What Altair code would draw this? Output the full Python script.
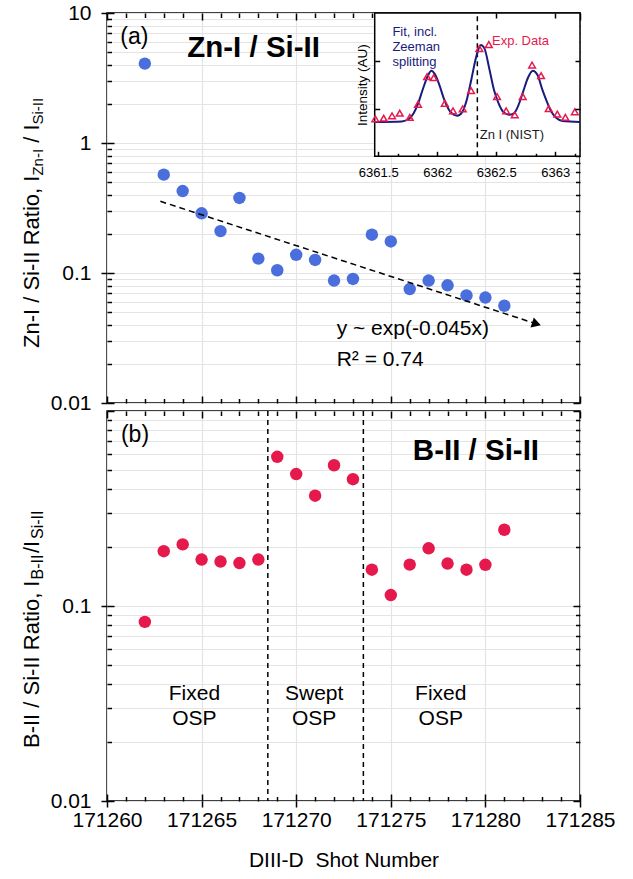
import altair as alt
import pandas as pd

FONT = "Liberation Sans"
BLUE = "#4a6fdc"
RED = "#e5194b"
NAVY = "#1b1b7d"
PINK = "#e8184e"
GRID = "#e4e4e4"

W = 473
H = 390

# ---------------- main data ----------------
shots = [171262, 171263, 171264, 171265, 171266, 171267, 171268, 171269, 171270, 171271,
         171272, 171273, 171274, 171275, 171276, 171277, 171278, 171279, 171280, 171281]
zn_si_ratio = [4.08, 0.571, 0.427, 0.288, 0.210, 0.378, 0.129, 0.105, 0.138, 0.126,
               0.0875, 0.090, 0.197, 0.175, 0.0752, 0.0875, 0.0804, 0.0672, 0.0647, 0.056]
b_si_ratio = [0.0829, 0.191, 0.207, 0.173, 0.169, 0.166, 0.173, 0.582, 0.475, 0.368,
              0.527, 0.447, 0.1536, 0.1138, 0.163, 0.1977, 0.165, 0.1536, 0.1626, 0.246]

trend_shot = [171262.82, 171282.70]
trend_ratio = [0.356, 0.0406]
arrow_angle = 18

osp_bounds = [171268.5, 171273.55]

SHOT_RANGE = [171260, 171285]
TOP_RANGE = [0.01, 10]
BOT_RANGE = [0.01, 1]
shot_major = [171260, 171265, 171270, 171275, 171280, 171285]
shot_minor = [s for s in range(171260, 171286) if s % 5 != 0]

# panel annotations
a_panel_txt = ["(a)"]; a_panel_x = [171261.45]; a_panel_y = [6.5]
a_title_txt = ["Zn-I / Si-II"]; a_title_x = [171267.75]; a_title_y = [5.39]
fit_txt = ["y ~ exp(-0.045x)", "R\u00b2 = 0.74"]; fit_x = [171272.14, 171272.14]; fit_y = [0.0372, 0.0216]

b_panel_txt = ["(b)"]; b_panel_x = [171261.48]; b_panel_y = [0.7556]
b_title_txt = ["B-II / Si-II"]; b_title_x = [171279.5]; b_title_y = [0.624]
region_txt = ["Fixed", "OSP", "Swept", "OSP", "Fixed", "OSP"]
region_x = [171264.62, 171264.62, 171270.95, 171270.95, 171277.64, 171277.64]
region_y = [0.0354, 0.0262, 0.0354, 0.0262, 0.0354, 0.0262]

x_title = "DIII-D\u00a0 Shot Number"

# ---------------- inset data ----------------
wl_range = [6361.47, 6363.21]
int_range = [0, 3]
inset_px_x = [267.7, 473]
inset_px_y = [143.3, 0]

exp_wl = [6361.475, 6361.546, 6361.617, 6361.682, 6361.767, 6361.837, 6361.914, 6361.970,
          6362.064, 6362.134, 6362.216, 6362.287, 6362.357, 6362.437, 6362.507, 6362.584,
          6362.657, 6362.725, 6362.804, 6362.880, 6362.945, 6363.018, 6363.086, 6363.166]
exp_int = [0.785, 0.798, 0.848, 0.902, 0.813, 1.090, 1.667, 1.646,
           1.110, 0.952, 0.994, 1.375, 2.256, 2.340, 1.250, 0.952,
           0.869, 1.250, 1.910, 1.688, 1.000, 0.883, 0.815, 0.933]

fit_wl = [6361.47, 6361.70, 6361.76, 6361.80, 6361.84, 6361.88, 6361.92, 6361.95, 6361.98,
          6362.02, 6362.06, 6362.10, 6362.14, 6362.17, 6362.21, 6362.25, 6362.29, 6362.33,
          6362.37, 6362.40, 6362.44, 6362.48, 6362.52, 6362.56, 6362.61, 6362.65, 6362.69,
          6362.73, 6362.77, 6362.81, 6362.85, 6362.89, 6362.93, 6362.97, 6363.01, 6363.06, 6363.21]
fit_int = [0.72, 0.73, 0.78, 0.90, 1.12, 1.42, 1.68, 1.79, 1.72,
           1.48, 1.18, 0.97, 0.87, 0.85, 0.92, 1.18, 1.62, 2.08,
           2.33, 2.26, 1.85, 1.40, 1.11, 0.93, 0.87, 0.90, 1.08,
           1.37, 1.65, 1.79, 1.70, 1.40, 1.14, 0.92, 0.80, 0.74, 0.72]

nist_line = [6362.34]

inset_txt = ["Fit, incl.", "Zeeman", "splitting", "Exp. Data", "Zn I (NIST)"]
inset_txt_x = [6361.62, 6361.62, 6361.62, 6362.464, 6362.36]
inset_txt_y = [2.6, 2.29, 1.98, 2.41, 0.45]
inset_txt_c = [NAVY, NAVY, NAVY, PINK, "#1a1a1a"]

inset_major = [6361.5, 6362, 6362.5, 6363]
inset_minor = [round(6361.5 + k / 6.0, 4) for k in range(11) if k % 3 != 0]
inset_top = [6362.5, 6363]
inset_yticks = [1, 2]

# ---------------- helpers ----------------
DEC_T = "abs(log(datum.value)/LN10 - round(log(datum.value)/LN10)) < 0.001"


def log_minor(lo, hi):
    v = []
    for e in range(lo, hi):
        for k in range(2, 10):
            v.append(round(k * 10 ** e, 10))
    return v


def log_major(lo, hi):
    return [round(10 ** e, 10) for e in range(lo, hi + 1)]


def xsc():
    return alt.Scale(domain=SHOT_RANGE, nice=False, zero=False)


def ysc(dom):
    return alt.Scale(type="log", domain=dom, nice=False)


def ixsc():
    return alt.Scale(domain=wl_range, range=inset_px_x, nice=False, zero=False)


def iysc():
    return alt.Scale(domain=int_range, range=inset_px_y, nice=False, zero=False)


def tick_axis(orient, values, offset, size, z=0):
    return alt.Axis(orient=orient, values=values, offset=offset, grid=False, domain=False,
                    labels=False, title=None, ticks=True, tickColor="black", tickWidth=1.5,
                    tickSize=size, minExtent=0, zindex=z)


def text_layer(xs, ys, txts, dom, size, weight="normal", align="center"):
    df = pd.DataFrame({"x": xs, "y": ys, "t": txts})
    return alt.Chart(df).mark_text(fontSize=size, fontWeight=weight, align=align,
                                   baseline="middle", color="black").encode(
        x=alt.X("x:Q", scale=xsc(), axis=None),
        y=alt.Y("y:Q", scale=ysc(dom), axis=None),
        text="t:N")


dummy = pd.DataFrame({"k": [0]})


def title_piece(txt, dx, size, dy, y0):
    return alt.Chart(dummy).mark_text(text=txt, angle=270, align="left", baseline="alphabetic",
                                      dx=dx, dy=dy, fontSize=size, color="black").encode(
        x=alt.value(-68.3), y=alt.value(y0))


def panel(values, color, dom, lab_test, xlabels, xtitle):
    df = pd.DataFrame({"shot": shots, "ratio": values})
    hi = 1 if dom[1] == 10 else 0
    ymaj = log_major(-2, hi)
    ymin = log_minor(-2, hi)
    yall = sorted(ymaj + ymin)
    ylab = [v for v in ymaj if (v <= 10 if hi == 1 else v < 0.5)]
    base = alt.Chart(df)
    xa = dict(orient="bottom", values=shot_major, grid=True, gridColor=GRID, gridWidth=1.2,
              domain=False, ticks=xlabels, tickSize=6, tickWidth=1.5, tickColor="black",
              labels=xlabels, labelFontSize=21, labelColor="black", labelPadding=2,
              labelFlush=False, labelOverlap=False, format="d")
    if xtitle:
        xa.update(title=xtitle, titleFontSize=21, titleFontWeight="normal",
                  titleColor="black", titlePadding=19)
    else:
        xa["title"] = None
    ya = alt.Axis(orient="left", values=yall, grid=True, gridColor=GRID, gridWidth=1.2,
                  domain=False, ticks=False, labels=True,
                  labelExpr="(" + lab_test + ") ? format(datum.value, '~g') : ''",
                  labelFontSize=21, labelColor="black", labelPadding=16,
                  labelOverlap=False, title=None, minExtent=0)
    pts = base.mark_circle(size=155, color=color, opacity=1).encode(
        x=alt.X("shot:Q", scale=xsc(), axis=alt.Axis(**xa)),
        y=alt.Y("ratio:Q", scale=ysc(dom), axis=ya))
    inv = base.mark_point(opacity=0)
    layers = [
        inv.encode(x=alt.X("shot:Q", scale=xsc(), axis=tick_axis("top", shot_major, -H, 7)),
                   y=alt.Y("ratio:Q", scale=ysc(dom), axis=tick_axis("right", ymaj, -W, 7))),
        inv.encode(x=alt.X("shot:Q", scale=xsc(), axis=tick_axis("top", shot_minor, -H, 4.5)),
                   y=alt.Y("ratio:Q", scale=ysc(dom), axis=tick_axis("right", ymin, -W, 4.5))),
        inv.encode(x=alt.X("shot:Q", scale=xsc(), axis=tick_axis("bottom", shot_major, -H, 7)),
                   y=alt.Y("ratio:Q", scale=ysc(dom), axis=tick_axis("left", ymaj, -W, 7))),
        inv.encode(x=alt.X("shot:Q", scale=xsc(), axis=tick_axis("bottom", shot_minor, -H, 4.5)),
                   y=alt.Y("ratio:Q", scale=ysc(dom), axis=tick_axis("left", ymin, -W, 4.5))),
        inv.encode(x=alt.X("shot:Q", scale=xsc(), axis=None),
                   y=alt.Y("ratio:Q", scale=ysc(dom), axis=tick_axis("left", ylab, 0, 6))),
        pts,
    ]
    return layers


# ---------------- top panel ----------------
top_layers = panel(zn_si_ratio, BLUE, TOP_RANGE, DEC_T, False, None)

trend_df = pd.DataFrame({"x": trend_shot, "y": trend_ratio})
trend = alt.Chart(trend_df).mark_line(strokeDash=[6, 4], color="black", strokeWidth=1.5).encode(
    x=alt.X("x:Q", scale=xsc(), axis=None), y=alt.Y("y:Q", scale=ysc(TOP_RANGE), axis=None))
arrow = alt.Chart(trend_df.tail(1)).mark_point(shape="triangle-right", filled=True, color="black",
                                               opacity=1, size=110, angle=arrow_angle).encode(
    x=alt.X("x:Q", scale=xsc(), axis=None), y=alt.Y("y:Q", scale=ysc(TOP_RANGE), axis=None))

top_layers += [trend, arrow,
               text_layer(a_panel_x, a_panel_y, a_panel_txt, TOP_RANGE, 23),
               text_layer(a_title_x, a_title_y, a_title_txt, TOP_RANGE, 29.5, "bold"),
               text_layer(fit_x, fit_y, fit_txt, TOP_RANGE, 21, align="left")]

# inset
box_df = pd.DataFrame({"x0": [wl_range[0]], "x1": [wl_range[1]], "y0": [int_range[0]], "y1": [int_range[1]]})
inset_lab_axis = alt.Axis(orient="bottom", offset=inset_px_y[0] - H, values=inset_major, format=".1~f",
                          ticks=False, tickSize=0, domain=False, grid=False, title=None,
                          labelFontSize=13, labelColor="black", labelPadding=10,
                          labelFlush=False, labelOverlap=False, zindex=1)
inset_title_axis = alt.Axis(orient="left", offset=-inset_px_x[0], values=inset_yticks, labels=False,
                            ticks=False, domain=False, grid=False, title="Intensity (AU)",
                            titleFontSize=13.5, titleFontWeight="normal", titleColor="black",
                            titlePadding=5, minExtent=0, zindex=1)
box = alt.Chart(box_df).mark_rect(fill="white", stroke="black", strokeWidth=1.5).encode(
    x=alt.X("x0:Q", scale=ixsc(), axis=inset_lab_axis), x2="x1",
    y=alt.Y("y0:Q", scale=iysc(), axis=inset_title_axis), y2="y1")

nist_df = pd.DataFrame({"x": nist_line, "y0": [int_range[0]], "y1": [int_range[1]]})
nist = alt.Chart(nist_df).mark_rule(strokeDash=[5, 4], color="black", strokeWidth=1.5).encode(
    x=alt.X("x:Q", scale=ixsc(), axis=None), y=alt.Y("y0:Q", scale=iysc(), axis=None), y2="y1")

fit_df = pd.DataFrame({"x": fit_wl, "y": fit_int})
fit_line = alt.Chart(fit_df).mark_line(color=NAVY, strokeWidth=2, interpolate="monotone").encode(
    x=alt.X("x:Q", scale=ixsc(), axis=tick_axis("top", inset_major, -inset_px_y[0], 5, 1)),
    y=alt.Y("y:Q", scale=iysc(), axis=tick_axis("right", inset_yticks, inset_px_x[0] - W, 5, 1)))

exp_df = pd.DataFrame({"x": exp_wl, "y": exp_int})
exp_pts = alt.Chart(exp_df).mark_point(shape="triangle-up", filled=False, color=PINK, size=45,
                                       strokeWidth=1.5, opacity=1).encode(
    x=alt.X("x:Q", scale=ixsc(), axis=tick_axis("top", inset_minor, -inset_px_y[0], 3, 1)),
    y=alt.Y("y:Q", scale=iysc(), axis=tick_axis("left", inset_yticks, -W, 5, 1)))

inset_top_ticks = alt.Chart(exp_df).mark_point(opacity=0).encode(
    x=alt.X("x:Q", scale=ixsc(), axis=tick_axis("bottom", inset_top, -H, 5, 1)),
    y=alt.Y("y:Q", scale=iysc(), axis=None))

itxt_df = pd.DataFrame({"x": inset_txt_x, "y": inset_txt_y, "t": inset_txt, "c": inset_txt_c})
itxt = alt.Chart(itxt_df).mark_text(align="left", baseline="middle", fontSize=13).encode(
    x=alt.X("x:Q", scale=ixsc(), axis=None), y=alt.Y("y:Q", scale=iysc(), axis=None),
    text="t:N", color=alt.Color("c:N", scale=None))

top_layers += [box, nist, fit_line, exp_pts, inset_top_ticks, itxt]

Y0_TOP = 335
top_layers += [title_piece("Zn-I / Si-II Ratio, I", 0, 22, 0, Y0_TOP),
               title_piece("Zn-I", 172.4, 15, 4, Y0_TOP),
               title_piece("/ I", 205.2, 22, 0, Y0_TOP),
               title_piece("Si-II", 223.5, 15, 4, Y0_TOP)]

top = alt.layer(*top_layers).resolve_scale(x="independent", y="independent").properties(width=W, height=H)

# ---------------- bottom panel ----------------
BOT_LAB_T = "(" + DEC_T + ") && datum.value < 0.5"
bot_layers = panel(b_si_ratio, RED, BOT_RANGE, BOT_LAB_T, True, x_title)

osp_df = pd.DataFrame({"x": osp_bounds})
osp = alt.Chart(osp_df).mark_rule(strokeDash=[5, 4], color="black", strokeWidth=1.5).encode(
    x=alt.X("x:Q", scale=xsc(), axis=None))

bot_layers += [osp,
               text_layer(b_panel_x, b_panel_y, b_panel_txt, BOT_RANGE, 23),
               text_layer(b_title_x, b_title_y, b_title_txt, BOT_RANGE, 29.5, "bold"),
               text_layer(region_x, region_y, region_txt, BOT_RANGE, 21)]

Y0_BOT = 337
bot_layers += [title_piece("B-II / Si-II Ratio, I", 0, 22, 0, Y0_BOT),
               title_piece("B-II", 168.5, 16, 4, Y0_BOT),
               title_piece("/I", 195.0, 22, 0, Y0_BOT),
               title_piece("Si-II", 209.0, 16, 4, Y0_BOT)]

bottom = alt.layer(*bot_layers).resolve_scale(x="independent", y="independent").properties(width=W, height=H)

chart = alt.vconcat(top, bottom, spacing=8, bounds="flush").properties(
    padding={"left": 19, "top": 1, "right": 5, "bottom": 5}
).configure(font=FONT).configure_view(stroke="black", strokeWidth=1.5)

chart.save("out.html", embed_options={"renderer": "svg", "actions": False})
